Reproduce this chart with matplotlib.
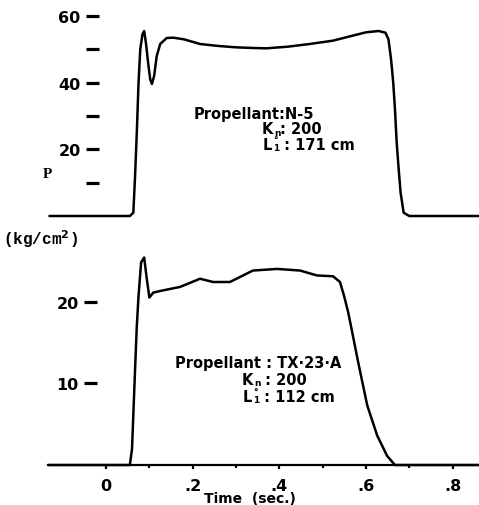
import numpy as np
import matplotlib
matplotlib.rcParams['font.family'] = 'DejaVu Sans'
matplotlib.rcParams['font.weight'] = 'bold'
matplotlib.rcParams['mathtext.fontset'] = 'dejavusans'
matplotlib.rcParams['mathtext.default'] = 'bf'
import matplotlib.pyplot as plt

# N-5 propellant trace (time in s, pressure in kg/cm^2)
t_n5 = [-0.13, 0.055, 0.063, 0.067, 0.071, 0.075, 0.079, 0.084, 0.088, 0.092,
        0.098, 0.102, 0.106, 0.111, 0.117, 0.125, 0.14, 0.155, 0.18, 0.217,
        0.26, 0.3, 0.34, 0.37, 0.42, 0.47, 0.524, 0.56, 0.6, 0.629, 0.645,
        0.652, 0.658, 0.663, 0.667, 0.671, 0.675, 0.68, 0.687, 0.70, 0.86]
p_n5 = [0, 0, 1, 12, 25, 40, 50, 54.5, 55.5, 52,
        45, 41, 39.6, 42, 48, 51.6, 53.4, 53.5, 53, 51.6,
        51, 50.6, 50.4, 50.3, 50.8, 51.6, 52.6, 53.8, 55.1, 55.5, 55,
        53, 47, 40, 32, 22, 15, 7, 1, 0, 0]

# TX-23-A propellant trace
t_tx = [-0.13, 0.055, 0.06, 0.067, 0.071, 0.075, 0.081, 0.088, 0.094, 0.100,
        0.109, 0.125, 0.171, 0.217, 0.247, 0.286, 0.339, 0.395, 0.448, 0.487,
        0.524, 0.540, 0.549, 0.559, 0.570, 0.582, 0.603, 0.626, 0.649, 0.667,
        0.86]
p_tx = [0, 0, 2, 11.7, 17, 20.7, 24.8, 25.4, 22.8, 20.5,
        21.1, 21.3, 21.8, 22.8, 22.4, 22.4, 23.8, 24.0, 23.8, 23.2,
        23.1, 22.4, 20.8, 18.7, 15.8, 12.6, 7.3, 3.6, 1.1, 0,
        0]

top_ticks = [10, 20, 30, 40, 50, 60]
top_labels = ['', '20', '', '40', '', '60']
bot_ticks = [10, 20]
bot_labels = ['10', '20']
x_ticks = [0, 0.2, 0.4, 0.6, 0.8]
x_labels = ['0', '.2', '.4', '.6', '.8']
x_minor = [0.1, 0.3, 0.5, 0.7]

W, H = 479, 506


def fx(x):
    return x / W


def fy(y):
    return 1 - y / H


fig = plt.figure(figsize=(W / 100, H / 100), dpi=100)
fig.patch.set_facecolor('white')
renderer = fig.canvas.get_renderer()

ax1 = fig.add_axes([fx(48), fy(225), 431 / W, 220 / H])
ax2 = fig.add_axes([fx(48), fy(475), 431 / W, 230 / H])

for ax in (ax1, ax2):
    ax.set_xlim(-0.134, 0.861)
    for s in ('top', 'right', 'bottom', 'left'):
        ax.spines[s].set_visible(False)
    ax.tick_params(axis='y', direction='out', length=9.5, width=2.3, pad=3.5,
                   labelsize=11.5)

ax1.plot(t_n5, p_n5, color='black', lw=1.8, solid_joinstyle='round')
ax1.set_ylim(-2.4, 63.6)
ax1.spines['left'].set_position(('data', -0.017))
ax1.set_yticks(top_ticks)
ax1.set_yticklabels(top_labels)
ax1.set_xticks([])

ax2.plot(t_tx, p_tx, color='black', lw=1.8, solid_joinstyle='round')
ax2.set_ylim(-1.1, 27.05)
ax2.spines['left'].set_position(('data', -0.021))
ax2.set_yticks(bot_ticks)
ax2.set_yticklabels(bot_labels)
ax2.spines['bottom'].set_visible(True)
ax2.spines['bottom'].set_position(('data', 0))
ax2.spines['bottom'].set_linewidth(1.6)
ax2.set_xticks(x_ticks)
ax2.set_xticklabels(x_labels)
ax2.set_xticks(x_minor, minor=True)
ax2.tick_params(axis='x', which='major', direction='out', length=3, width=1.6,
                pad=6, labelsize=11.5)
ax2.tick_params(axis='x', which='minor', direction='out', length=2, width=1.6)

fig.text(fx(47), fy(175), 'P', family='Liberation Serif', weight='bold',
         fontsize=11, ha='center', va='center')
fig.text(fx(3), fy(239), '(kg/cm$^2$)', family='Liberation Mono', weight='bold',
         fontsize=11.5, ha='left', va='center')
fig.text(fx(250), fy(499), 'Time  (sec.)', fontsize=10, ha='center',
         va='center')

fs = 10.5
small = 6.5


def put(x, y, s, size, dy=0):
    # place a piece of text at pixel x (left), return its width in pixels
    t = fig.text(fx(x), fy(y - dy), s, fontsize=size, va='center', ha='left')
    return t.get_window_extent(renderer).width


def kn_line(x, y, rest):
    x += put(x, y, 'K', fs)
    x += put(x + 0.5, y, 'n', small, dy=-3) + 0.5
    put(x, y, rest, fs)


def l_line(x, y, rest):
    x += put(x, y, 'L', fs)
    w1 = put(x + 0.5, y, '\u00b0', small, dy=4)
    w2 = put(x + 0.5, y, '1', small, dy=-3.5)
    put(x + max(w1, w2) + 0.5, y, rest, fs)


put(194, 115, 'Propellant:N-5', fs)
kn_line(262, 130, ': 200')
l_line(263, 145, ' : 171 cm')

put(175, 364, 'Propellant : TX\u00b723\u00b7A', fs)
kn_line(242, 381, ' : 200')
l_line(243, 397, ' : 112 cm')

fig.savefig('out.png', dpi=100, facecolor='white')
